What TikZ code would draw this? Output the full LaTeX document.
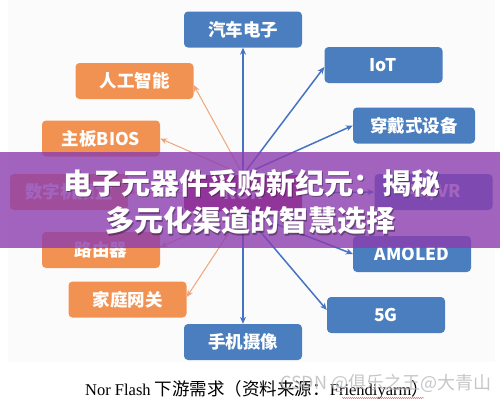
\documentclass[tikz,border=0pt]{standalone}
\usepackage{fontspec}
\setmainfont{Liberation Serif}
\newfontfamily\cjk{Noto Sans CJK SC}
\usetikzlibrary{arrows.meta,decorations.pathmorphing}
\definecolor{boxblue}{RGB}{74,126,190}
\definecolor{boxorange}{RGB}{242,146,82}
\definecolor{lineblue}{RGB}{70,115,195}
\definecolor{lineorange}{RGB}{240,165,120}
\definecolor{norred}{RGB}{170,20,70}
\definecolor{bandpurple}{RGB}{140,62,175}
\begin{document}
\begin{tikzpicture}[x=1pt,y=-1pt,
  box/.style={rounded corners=4pt, minimum width=118pt, minimum height=36pt, text=white,
    font=\cjk\bfseries\fontsize{17.5}{17.5}\selectfont, inner sep=0pt},
  bluebox/.style={box, fill=boxblue},
  orangebox/.style={box, fill=boxorange},
  blink/.style={draw=lineblue, line width=1.5pt, -{Stealth[length=7pt,width=6pt]}},
  olink/.style={draw=lineorange, line width=1pt, -{Stealth[length=7pt,width=6pt]}},
  titletext/.style={font=\cjk\bfseries\fontsize{29}{29}\selectfont, inner sep=0pt},
]
\useasboundingbox (0,0) rectangle (500,402);
\fill[white] (0,0) rectangle (500,402);
\fill[gray!3] (8,0) rectangle (495,362);

% centre
\node[box, fill=norred] (nor) at (243,193) {NOR};

% boxes
\node[bluebox] (car) at (243,29.5) {汽车电子};
\node[orangebox] (ai) at (134.5,81) {人工智能};
\node[orangebox] (bios) at (101,138.5) {主板BIOS};
\node[bluebox] (iot) at (383.5,65) {IoT};
\node[bluebox, minimum width=122pt] (wear) at (414,125.5) {穿戴式设备};
\node[orangebox] (stb) at (69,192) {数字机顶盒};
\node[bluebox] (arvr) at (433.5,192) {AR/VR};
\node[bluebox] (amoled) at (412,254) {AMOLED};
\node[bluebox] (g5) at (386,315) {5G};
\node[bluebox] (phone) at (243,342) {手机摄像};
\node[orangebox] (gw) at (127.5,299.5) {家庭网关};
\node[orangebox] (router) at (101,250) {路由器};

% connectors
\draw[blink] (nor.north) -- (car.south);
\draw[olink] (nor.north) -- ([yshift=-4pt]ai.east);
\draw[olink] (nor.north) -- (bios.east);
\draw[blink] (nor.north) -- ([yshift=-2pt]iot.west);
\draw[blink] (nor.north) -- (wear.west);
\draw[olink] (nor.west) -- (stb.east);
\draw[blink] (nor.east) -- (arvr.west);
\draw[blink] (nor.south) -- (amoled.west);
\draw[blink] (nor.south) -- ([yshift=5pt]g5.west);
\draw[blink] (nor.south) -- (phone.north);
\draw[olink] (nor.south) -- ([yshift=2.5pt]gw.east);
\draw[olink] (nor.south) -- ([yshift=3pt]router.east);

% title band
\fill[bandpurple, opacity=0.8] (0,152) rectangle (500,248);
\node[titletext, text=black, opacity=0.35] at (253.2,184.2) {电子元器件采购新纪元：揭秘};
\node[titletext, text=black, opacity=0.35] at (251.2,222.2) {多元化渠道的智慧选择};
\node[titletext, text=white] (t1) at (252,183) {电子元器件采购新纪元：揭秘};
\node[titletext, text=white] (t2) at (250,221) {多元化渠道的智慧选择};

% caption
\node[anchor=west, inner sep=0pt, font=\fontsize{16.5}{16.5}\selectfont] (cap) at (85,390)
  {Nor Flash {\cjk\fontsize{17.5}{17.5}\selectfont 下游需求（资料来源：}Friendiyarm{\cjk\fontsize{17.5}{17.5}\selectfont ）}};
\draw[red!80, line width=0.4pt, decorate, decoration={snake, amplitude=0.5pt, segment length=2pt}]
  (342,398) -- (424,398);
\node[anchor=west, inner sep=0pt, text=gray!55, opacity=0.8, font=\cjk\fontsize{18}{18}\selectfont] (wm) at (280,383) {CSDN @俱乐之王@大青山};
\end{tikzpicture}
\end{document}
